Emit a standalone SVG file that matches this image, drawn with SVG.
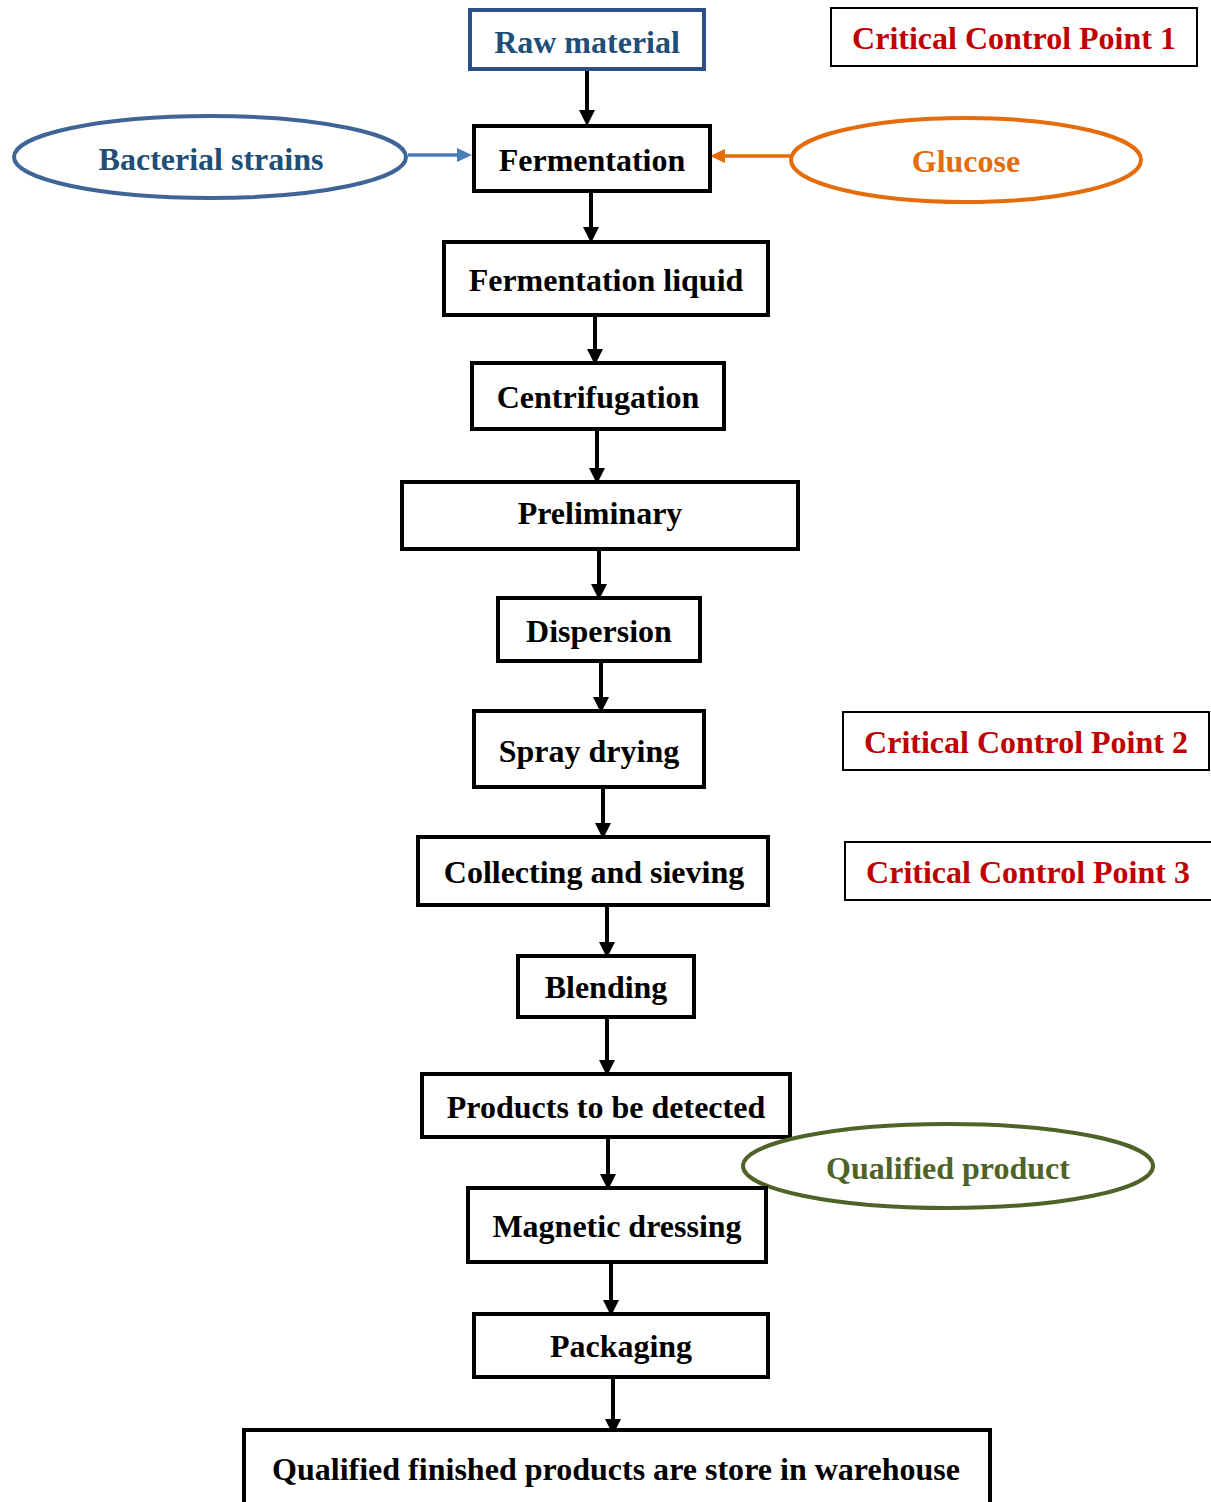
<svg xmlns="http://www.w3.org/2000/svg" width="1211" height="1502" viewBox="0 0 1211 1502">
  <style>
    text { font-family: "Liberation Serif", "Times New Roman", serif; font-weight: bold; font-size: 32px; text-anchor: middle; }
    .step rect { fill: #fff; stroke: #000; stroke-width: 4; }
    .step text { fill: #000; }
    .ccp rect { fill: #fff; stroke: #000; stroke-width: 2; }
    .ccp text { fill: #C00000; }
    .flow { stroke: #000; stroke-width: 4; fill: none; }
    .head { fill: #000; }
  </style>
  <rect width="1211" height="1502" fill="#fff"/>

  <!-- connectors -->
  <g id="connectors">
    <path class="flow" d="M587 71V112"/><polygon class="head" points="579,110 595,110 587,126"/>
    <path class="flow" d="M591 193V228"/><polygon class="head" points="583,227 599,227 591,243"/>
    <path class="flow" d="M595 316V350"/><polygon class="head" points="587,349 603,349 595,365"/>
    <path class="flow" d="M597 431V469"/><polygon class="head" points="589,468 605,468 597,484"/>
    <path class="flow" d="M599 550V585"/><polygon class="head" points="591,584 607,584 599,600"/>
    <path class="flow" d="M601 663V698"/><polygon class="head" points="593,697 609,697 601,713"/>
    <path class="flow" d="M603 789V824"/><polygon class="head" points="595,823 611,823 603,839"/>
    <path class="flow" d="M607 906V943"/><polygon class="head" points="599,942 615,942 607,958"/>
    <path class="flow" d="M607 1018V1061"/><polygon class="head" points="599,1060 615,1060 607,1076"/>
    <path class="flow" d="M608 1138V1175"/><polygon class="head" points="600,1174 616,1174 608,1190"/>
    <path class="flow" d="M611 1263V1301"/><polygon class="head" points="603,1300 619,1300 611,1316"/>
    <path class="flow" d="M613 1378V1420"/><polygon class="head" points="605,1419 621,1419 613,1435"/>
    <!-- side inputs -->
    <path d="M408 155H458" stroke="#4A7EBB" stroke-width="3.5" fill="none"/>
    <polygon points="457,148 472,155 457,162" fill="#4A7EBB"/>
    <path d="M790 156H724" stroke="#E46C0A" stroke-width="3.5" fill="none"/>
    <polygon points="725,149 710,156 725,163" fill="#E46C0A"/>
  </g>

  <g id="raw-material">
    <rect x="470" y="10" width="234" height="59" fill="#fff" stroke="#2B5088" stroke-width="4"/>
    <text x="587" y="53" fill="#1F4E79">Raw material</text>
  </g>

  <g id="ccp1" class="ccp">
    <rect x="831" y="8" width="366" height="58"/>
    <text x="1014" y="49">Critical Control Point 1</text>
  </g>

  <g id="bacterial-strains">
    <ellipse cx="210" cy="157" rx="196" ry="41" fill="#fff" stroke="#3F6496" stroke-width="4"/>
    <text x="211" y="170" fill="#1F4E79">Bacterial strains</text>
  </g>

  <g id="glucose">
    <ellipse cx="966" cy="160" rx="175" ry="42" fill="#fff" stroke="#E46C0A" stroke-width="4"/>
    <text x="966" y="172" fill="#E46C0A">Glucose</text>
  </g>

  <g id="fermentation" class="step">
    <rect x="474" y="126" width="236" height="65"/>
    <text x="592" y="171">Fermentation</text>
  </g>

  <g id="fermentation-liquid" class="step">
    <rect x="444" y="242" width="324" height="73"/>
    <text x="606" y="291">Fermentation liquid</text>
  </g>

  <g id="centrifugation" class="step">
    <rect x="472" y="363" width="252" height="66"/>
    <text x="598" y="408">Centrifugation</text>
  </g>

  <g id="preliminary" class="step">
    <rect x="402" y="482" width="396" height="67"/>
    <text x="600" y="524">Preliminary</text>
  </g>

  <g id="dispersion" class="step">
    <rect x="498" y="598" width="202" height="63"/>
    <text x="599" y="642">Dispersion</text>
  </g>

  <g id="spray-drying" class="step">
    <rect x="474" y="711" width="230" height="76"/>
    <text x="589" y="762">Spray drying</text>
  </g>

  <g id="ccp2" class="ccp">
    <rect x="843" y="712" width="366" height="58"/>
    <text x="1026" y="753">Critical Control Point 2</text>
  </g>

  <g id="collecting-sieving" class="step">
    <rect x="418" y="837" width="350" height="68"/>
    <text x="594" y="883">Collecting and sieving</text>
  </g>

  <g id="ccp3" class="ccp">
    <rect x="845" y="842" width="370" height="58"/>
    <text x="1028" y="883">Critical Control Point 3</text>
  </g>

  <g id="blending" class="step">
    <rect x="518" y="956" width="176" height="61"/>
    <text x="606" y="998">Blending</text>
  </g>

  <g id="products-detected" class="step">
    <rect x="422" y="1074" width="368" height="63"/>
    <text x="606" y="1118">Products to be detected</text>
  </g>

  <g id="qualified-product">
    <ellipse cx="948" cy="1166" rx="205" ry="42" fill="#fff" stroke="#4F6228" stroke-width="4"/>
    <text x="948" y="1179" fill="#4F6228">Qualified product</text>
  </g>

  <g id="magnetic-dressing" class="step">
    <rect x="468" y="1188" width="298" height="74"/>
    <text x="617" y="1237">Magnetic dressing</text>
  </g>

  <g id="packaging" class="step">
    <rect x="474" y="1314" width="294" height="63"/>
    <text x="621" y="1357">Packaging</text>
  </g>

  <g id="warehouse" class="step">
    <rect x="244" y="1430" width="746" height="80"/>
    <text x="616" y="1480" textLength="688" lengthAdjust="spacingAndGlyphs">Qualified finished products are store in warehouse</text>
  </g>
</svg>
